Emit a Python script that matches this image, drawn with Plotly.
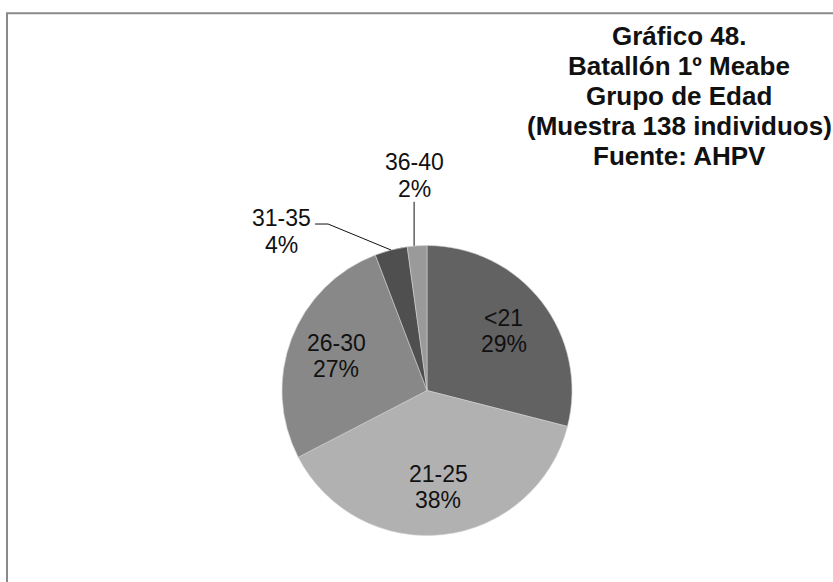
import math
import plotly.graph_objects as go

# Age groups of the 1st Meabe Battalion (sample of 138 men)
groups = ["<21", "21-25", "26-30", "31-35", "36-40"]
counts = [40, 53, 37, 5, 3]
slice_colors = ["#626262", "#b1b1b1", "#888888", "#4f4f4f", "#9a9a9a"]

title_lines = [
    "Gráfico 48.",
    "Batallón 1º Meabe",
    "Grupo de Edad",
    "(Muestra 138 individuos)",
    "Fuente: AHPV",
]

W, H = 833, 582
CX, CY, R = 427, 390.5, 145  # pie centre and radius in pixels

FONT = "Liberation Sans, Arial, sans-serif"


def px(x):
    return x / W


def py(y):
    return 1 - y / H


total = sum(counts)
pcts = [round(c / total * 100) for c in counts]

fig = go.Figure(
    go.Pie(
        labels=groups,
        values=counts,
        sort=False,
        direction="clockwise",
        rotation=0,
        textinfo="none",
        hoverinfo="label+value+percent",
        marker=dict(colors=slice_colors, line=dict(color="#d0d0d0", width=0.6)),
        domain=dict(x=[px(CX - R), px(CX + R)], y=[py(CY + R), py(CY - R)]),
        showlegend=False,
    )
)

annotations = []
shapes = []


def add_label(x, y, lines, gap=26, size=23):
    n = len(lines)
    for i, t in enumerate(lines):
        yy = y + (i - (n - 1) / 2) * gap
        annotations.append(
            dict(
                x=px(x), y=py(yy), xref="paper", yref="paper",
                text=t, showarrow=False, xanchor="center", yanchor="middle",
                font=dict(family=FONT, size=size, color="#111111"),
            )
        )


# slice mid-angles (clockwise from 12 o'clock)
cum = 0
mids = []
for c in counts:
    mids.append((cum + c / 2) / total * 2 * math.pi)
    cum += c


def at(theta, frac):
    return CX + frac * R * math.sin(theta), CY - frac * R * math.cos(theta)


# labels inside the three large slices
for i in range(3):
    x, y = at(mids[i], 0.67)
    add_label(x, y, [groups[i], f"{pcts[i]}%"])

# 31-35: label to the upper left with an elbowed leader line
ex, ey = at(mids[3], 1.0)
elbow = (ex - 63, ey - 26)
add_label(elbow[0] - 47, elbow[1] + 7, [groups[3], f"{pcts[3]}%"], gap=27)
shapes.append(
    dict(
        type="path", xref="paper", yref="paper",
        path=f"M {px(elbow[0] - 13)},{py(elbow[1])} L {px(elbow[0])},{py(elbow[1])} "
             f"L {px(ex)},{py(ey)}",
        line=dict(color="#111111", width=1),
    )
)

# 36-40: label straight above with a vertical leader line
ex, ey = at(mids[4], 1.0)
lx = ex - 3
add_label(lx, ey - 70, [groups[4], f"{pcts[4]}%"], gap=27)
shapes.append(
    dict(
        type="line", xref="paper", yref="paper",
        x0=px(lx), x1=px(lx), y0=py(ey), y1=py(ey - 44),
        line=dict(color="#111111", width=1),
    )
)

# chart title, top right
for i, t in enumerate(title_lines):
    annotations.append(
        dict(
            x=px(679), y=py(36 + 30 * i), xref="paper", yref="paper",
            text=f"<b>{t}</b>", showarrow=False, xanchor="center", yanchor="middle",
            font=dict(family=FONT, size=26, color="#111111"),
        )
    )

# chart frame
shapes.append(
    dict(
        type="rect", xref="paper", yref="paper",
        x0=px(7), y0=py(13.3), x1=1.05, y1=-0.05,
        line=dict(color="#8a8a8a", width=2), fillcolor="rgba(0,0,0,0)",
    )
)

fig.update_layout(
    width=W, height=H,
    margin=dict(l=0, r=0, t=0, b=0),
    paper_bgcolor="white", plot_bgcolor="white",
    annotations=annotations, shapes=shapes,
)

fig.write_html("out.html")
